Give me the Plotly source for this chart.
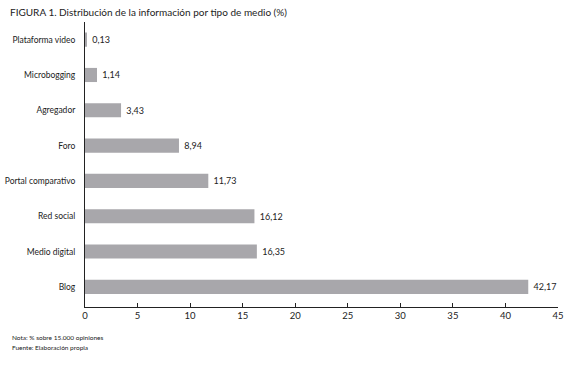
import plotly.graph_objects as go

categories = ["Blog", "Medio digital", "Red social", "Portal comparativo", "Foro",
              "Agregador", "Microbogging", "Plataforma video"]
values = [42.17, 16.35, 16.12, 11.73, 8.94, 3.43, 1.14, 0.13]
labels = [f"{v:.2f}".replace(".", ",") for v in values]
xticks = [0, 5, 10, 15, 20, 25, 30, 35, 40, 45]

font = "Lato, Open Sans, sans-serif"
W, H = 568, 370
ML, MR, MT, MB = 85, 10, 22, 63

fig = go.Figure(go.Bar(
    y=categories, x=values, orientation="h",
    marker=dict(color="#a8a7ab", line=dict(width=0)),
    width=0.4,
    text=[" " + t for t in labels], textposition="outside", cliponaxis=False,
    textfont=dict(family=font, size=9, color="#222"),
))

pw = W - ML - MR
ph = H - MT - MB
def px(x):
    return (x - ML) / pw
def py(y):
    return (H - MB - y) / ph

fig.update_layout(
    width=W, height=H,
    margin=dict(l=ML, r=MR, t=MT, b=MB, autoexpand=False),
    plot_bgcolor="white", paper_bgcolor="white",
    showlegend=False,
    title=dict(text="FIGURA 1. Distribución de la información por tipo de medio (%)",
               x=10 / W, xref="container", xanchor="left",
               y=1 - 12 / H, yref="container", yanchor="middle",
               font=dict(family=font, size=10, color="#222")),
    xaxis=dict(range=[0, 45], tickvals=xticks, ticks="inside", ticklen=4,
               tickcolor="#222", showline=True, linecolor="#222", linewidth=1,
               showgrid=False, zeroline=False, automargin=False,
               tickfont=dict(family=font, size=9.5, color="#222")),
    yaxis=dict(categoryorder="array", categoryarray=categories,
               range=[-0.57, 7.5], showline=True, linecolor="#222", linewidth=1,
               showgrid=False, ticks="", ticklabelstandoff=7, automargin=False,
               tickfont=dict(family=font, size=8.5, color="#222")),
    annotations=[
        dict(text="Nota: % sobre 15.000 opiniones",
             x=px(10), y=py(338), xref="paper", yref="paper", showarrow=False,
             xanchor="left", yanchor="middle",
             font=dict(family=font, size=6.5, color="#222")),
        dict(text="Fuente: Elaboración propia",
             x=px(10), y=py(347), xref="paper", yref="paper", showarrow=False,
             xanchor="left", yanchor="middle",
             font=dict(family=font, size=6.5, color="#222")),
    ],
)

fig.write_html("out.html", config={"displayModeBar": False},
               post_script="document.body.style.margin='0';document.body.style.overflow='hidden';")
